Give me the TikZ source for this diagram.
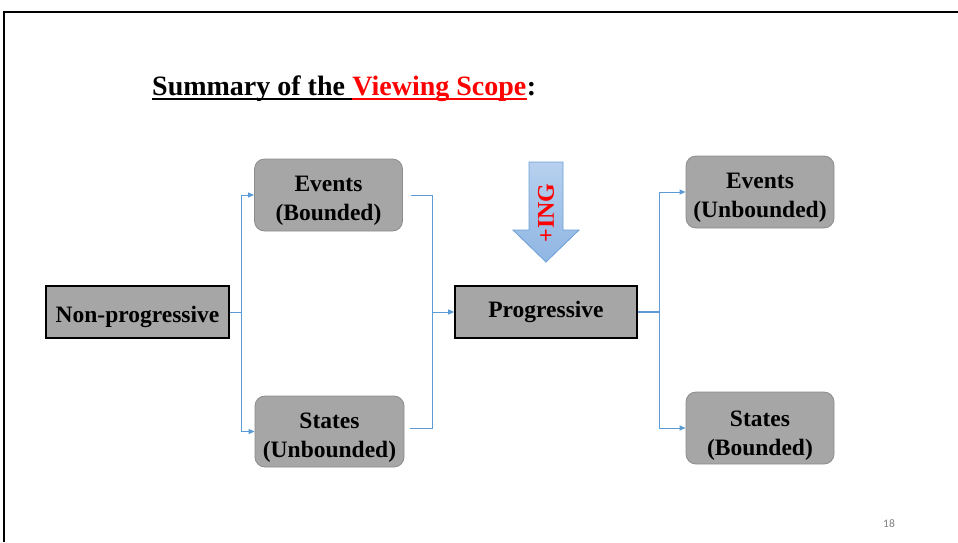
\documentclass[tikz,border=0pt]{standalone}
\usepackage{fontspec}
\setmainfont{Liberation Serif}
\newfontfamily\pagefont{Carlito}
\usetikzlibrary{arrows.meta,calc}
\definecolor{boxgray}{HTML}{A6A6A6}
\definecolor{boxedge}{HTML}{8C8C8C}
\definecolor{linkblue}{HTML}{5B9BD5}
\definecolor{arrowtop}{HTML}{B7D0EE}
\definecolor{arrowbot}{HTML}{8FB6E3}
\definecolor{arrowedge}{HTML}{6A9FD8}
% invisible strut that lowers the text inside a box
\newcommand\padtop[1]{\rule{0pt}{#1pt}}
\begin{document}
\begin{tikzpicture}[x=1pt,y=-1pt,
  boxfont/.style={font=\fontsize{23.5}{29}\selectfont\bfseries},
  sqbox/.style={boxfont, draw=black, line width=1.6pt, fill=boxgray,
    minimum width=183pt, minimum height=52pt, inner sep=0pt},
  rbox/.style={boxfont, draw=boxedge, line width=0.8pt, fill=boxgray,
    rounded corners=10pt, minimum width=148pt, minimum height=72pt,
    inner sep=0pt, align=center},
  titlefont/.style={font=\fontsize{28}{32}\selectfont\bfseries, inner sep=0pt},
  conn/.style={draw=linkblue, line width=1pt},
  connarrow/.style={conn, -{Triangle[length=6pt,width=5pt]}}]
\useasboundingbox (0,0) rectangle (958,542);

% slide frame
\draw[line width=2pt] (4,542) -- (4,12) -- (958,12);

% heading with underline
\node[titlefont, anchor=base west] (t1) at (152,95) {Summary of the\kern0.25em};
\node[titlefont, anchor=base west, text=red] (t2) at (t1.base east) {Viewing Scope};
\node[titlefont, anchor=base west] (t3) at (t2.base east) {:};
\draw[line width=1.8pt] ($(t1.base west)+(0,4)$) -- ($(t1.base east)+(0,4)$);
\draw[line width=1.8pt, red] ($(t2.base west)+(0,4)$) -- ($(t2.base east)+(0,4)$);

% boxes
\node[sqbox] (np) at (137.5,312) {\padtop{27}Non-progressive};
\node[rbox] (eb) at (328.5,195) {\padtop{26}Events\\(Bounded)};
\node[rbox, minimum width=149pt, minimum height=71pt] (su) at (329.5,431.5) {\padtop{28}States\\(Unbounded)};
\node[sqbox, minimum width=182pt] (pr) at (546,312) {Progressive};
\node[rbox] (eu) at (760,192) {\padtop{26}Events\\(Unbounded)};
\node[rbox] (sb) at (760,428) {\padtop{30}States\\(Bounded)};

% +ING block arrow
\shade[top color=arrowtop, bottom color=arrowbot, draw=arrowedge, line width=0.8pt]
  (529,162) -- (563,162) -- (563,230) -- (579,230) -- (546,262)
  -- (513,230) -- (529,230) -- cycle;
\node[rotate=90, text=red, font=\fontsize{24}{28}\selectfont\bfseries, inner sep=0pt]
  (ing) at (546,213) {+ING};

% junction points
\coordinate (j1) at (241,312);
\coordinate (j2) at (432,312);
\coordinate (j3) at (659,312);

% connectors
\draw[conn] (np.east) -- (j1);
\draw[connarrow] (j1) |- (eb.west);
\draw[connarrow] (j1) |- (su.west);
\draw[conn] ($(eb.east)+(8,0)$) -| (j2);
\draw[conn] ($(su.east)+(6,-3.5)$) -| (j2);
\draw[connarrow] (j2) -- (pr.west);
\draw[conn, line width=1.6pt] (pr.east) -- (j3);
\draw[connarrow] (j3) |- (eu.west);
\draw[connarrow] (j3) |- (sb.west);

% page number
\node[text=gray, font=\pagefont\fontsize{11.5}{13}\selectfont] (pg) at (889,524) {18};
\end{tikzpicture}
\end{document}
